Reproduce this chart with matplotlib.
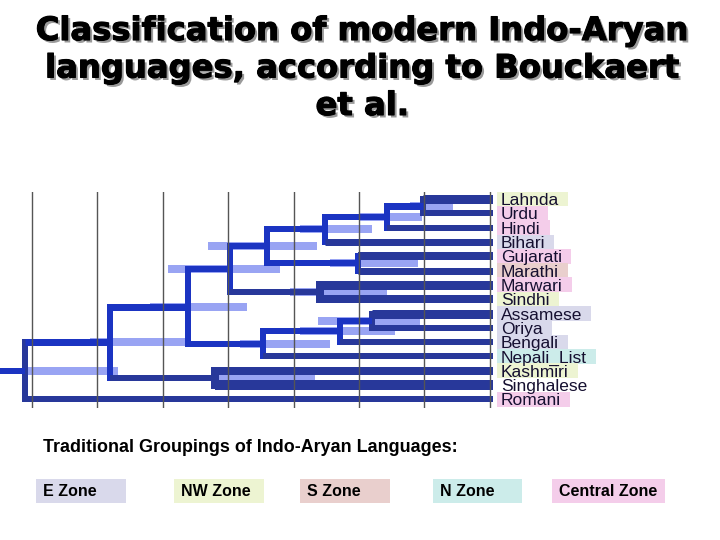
import matplotlib
matplotlib.use('Agg')
import matplotlib.pyplot as plt
import matplotlib.patheffects as pe
from matplotlib import transforms
from matplotlib.patches import Rectangle

# Leaves, top to bottom, and their traditional zone
leaves = ['Lahnda', 'Urdu', 'Hindi', 'Bihari', 'Gujarati', 'Marathi', 'Marwari',
          'Sindhi', 'Assamese', 'Oriya', 'Bengali', 'Nepali_List', 'Kashmiri',
          'Singhalese', 'Romani']
leaf_zones = ['NW', 'Central', 'Central', 'E', 'Central', 'S', 'Central',
              'NW', 'E', 'E', 'E', 'N', 'NW', None, 'Central']

# Internal nodes (children, node age in grid units, light interval)
node_names = ['LU', 'LUH', 'LUHB', 'GM', 'LUHBGM', 'MS', 'D', 'AO', 'AOB',
              'AOBN', 'B', 'KS', 'A', 'root']
node_children = [['Lahnda', 'Urdu'], ['LU', 'Hindi'], ['LUH', 'Bihari'],
                 ['Gujarati', 'Marathi'], ['LUHB', 'GM'], ['Marwari', 'Sindhi'],
                 ['LUHBGM', 'MS'], ['Assamese', 'Oriya'], ['AO', 'Bengali'],
                 ['AOB', 'Nepali_List'], ['D', 'AOBN'], ['Kashmiri', 'Singhalese'],
                 ['B', 'KS'], ['A', 'Romani']]
node_ages = [5.98, 5.43, 4.48, 4.98, 3.59, 4.40, 3.03, 5.20, 4.71, 3.53, 2.39,
             2.80, 1.19, -0.11]
hpd_low = [5.78, 5.02, 4.10, 4.56, 2.69, 3.94, 2.08, 4.37, 4.10, 3.18, 1.80,
           2.80, 0.89, -0.10]
hpd_high = [6.44, 5.96, 5.20, 5.90, 4.36, 5.43, 3.79, 5.93, 5.55, 4.56, 3.29,
            4.33, 2.34, 1.32]
tip_age = 7.05
grid_ticks = [0, 1, 2, 3, 4, 5, 6, 7]

zone_names = ['E', 'NW', 'S', 'N', 'Central']
zone_colors = ['#d9d9eb', '#edf4d2', '#e9cfcd', '#ccecea', '#f4cdea']

# styles (px widths)
navy = '#28389a'
bright = '#1b34c2'
light = '#99a4f3'
tip_width = {'Lahnda': 9, 'Urdu': 6, 'Hindi': 6, 'Bihari': 7, 'Gujarati': 8,
             'Marathi': 7, 'Marwari': 9, 'Sindhi': 8, 'Assamese': 9, 'Oriya': 6,
             'Bengali': 6, 'Nepali_List': 6, 'Kashmiri': 8, 'Singhalese': 10,
             'Romani': 6}
navy_nodes = ['LU', 'MS', 'KS', 'AO', 'root']
px = 0.72

fig = plt.figure(figsize=(7.2, 5.4), dpi=100)
ax = fig.add_axes([0, 1 - 408 / 540, 493 / 720, 216 / 540])
ax.set_xlim(-0.49, tip_age)
ax.set_ylim(14.6, -0.49)
ax.axis('off')

# y position of every node
ypos = {name: i for i, name in enumerate(leaves)}
xpos = {name: tip_age for name in leaves}
for name, kids, age in zip(node_names, node_children, node_ages):
    ypos[name] = sum(ypos[k] for k in kids) / len(kids)
    xpos[name] = age

# light intervals
for name, lo, hi in zip(node_names, hpd_low, hpd_high):
    ax.plot([lo, hi], [ypos[name], ypos[name]], color=light, lw=8 * px,
            solid_capstyle='butt', zorder=1)

# branches
for name, kids, age in zip(node_names, node_children, node_ages):
    vcol = navy if name in navy_nodes else bright
    vw = 8 if name in ('KS', 'MS') else 6
    ys = [ypos[k] for k in kids]
    ax.plot([age, age], [min(ys), max(ys)], color=vcol, lw=vw * px,
            solid_capstyle='projecting', zorder=2)
    for k in kids:
        if k in tip_width:
            col, w = navy, tip_width[k]
        else:
            col = navy if k in ('KS', 'MS') else bright
            w = 7 if k in ('A', 'B', 'LU') else 6
        ax.plot([age, xpos[k]], [ypos[k], ypos[k]], color=col, lw=w * px,
                solid_capstyle='butt', zorder=2)
# root stub
ax.plot([-0.49, node_ages[-1]], [ypos['root'], ypos['root']], color=bright,
        lw=6 * px, solid_capstyle='butt', zorder=2)

for g in grid_ticks:
    ax.axvline(g, color='#555555', lw=1, zorder=3)

# leaf labels with zone boxes
lbl_tr = transforms.offset_copy(ax.transData, fig=fig, x=8, y=-6, units='dots')
texts = []
for name in leaves:
    t = ax.text(tip_age, ypos[name], name, transform=lbl_tr, ha='left',
                va='baseline', fontsize=12.5, color='#150f30',
                family='Liberation Sans', clip_on=False, zorder=5)
    texts.append(t)

fig.canvas.draw()
r = fig.canvas.get_renderer()
inv = ax.transData.inverted()
for t, name, zone in zip(texts, leaves, leaf_zones):
    if zone is None:
        continue
    bb = t.get_window_extent(r)
    x0 = inv.transform((bb.x0 - 4, 0))[0]
    x1 = inv.transform((bb.x1 + 9, 0))[0]
    y = ypos[name]
    ax.add_patch(Rectangle((x0, y - 0.52), x1 - x0, 1.04,
                           facecolor=zone_colors[zone_names.index(zone)],
                           edgecolor='none', clip_on=False, zorder=4))

# title
fig.text(0.503, 1 - 69 / 540,
         'Classification of modern Indo-Aryan\nlanguages, according to Bouckaert\net al.',
         ha='center', va='center', multialignment='center', fontsize=23.2,
         fontweight='bold', family='DejaVu Sans', linespacing=1.27,
         path_effects=[pe.SimplePatchShadow(offset=(1.8, -1.8),
                                            shadow_rgbFace='#9a9a9a', alpha=1),
                       pe.withStroke(linewidth=0.8, foreground='black')])

# traditional groupings legend
lax = fig.add_axes([0, 0, 1, 1], facecolor='none')
lax.set_xlim(0, 720)
lax.set_ylim(540, 0)
lax.axis('off')
lax.text(43, 447, 'Traditional Groupings of Indo-Aryan Languages:', ha='left',
         va='center', fontsize=12.9, fontweight='bold', family='Liberation Sans')
box_left = [36, 174, 300, 433, 552]
box_width = [90, 90, 90, 89, 113]
for zn, zc, bl, bw in zip(zone_names, zone_colors, box_left, box_width):
    lax.add_patch(Rectangle((bl, 479), bw, 24, facecolor=zc, edgecolor='none'))
    lax.text(bl + 7, 491, zn + ' Zone', ha='left', va='center', fontsize=11.5,
             fontweight='bold', family='Liberation Sans')

fig.savefig('out.png', dpi=100)
